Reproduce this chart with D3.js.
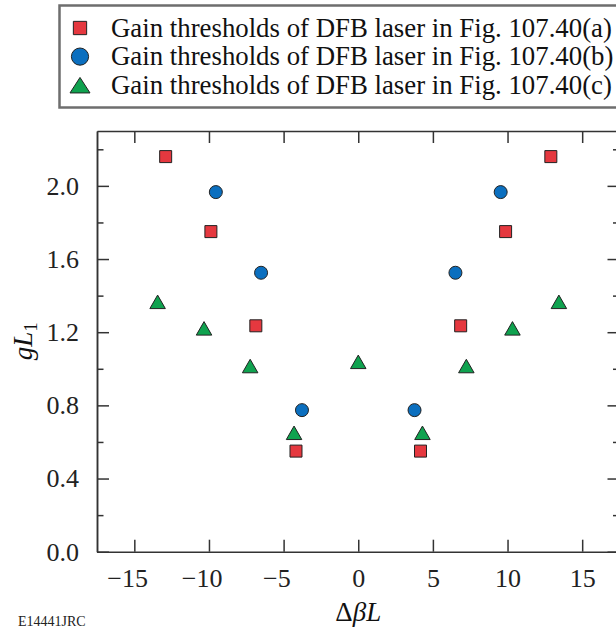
<!DOCTYPE html>
<html lang="en">
<head>
    <meta charset="UTF-8">
    <title>Gain thresholds of DFB laser</title>
    <style>
        body { margin: 0; background: #fff; }
        svg { display: block; font-family: "Liberation Serif", "Times New Roman", serif; }
        .axis path, .axis line { stroke: #333; stroke-width: 1.5; }
        .axis text { font-size: 26px; fill: #222; font-family: "Liberation Serif", "Times New Roman", serif; }
    </style>
</head>
<body>
    <div id="chart"></div>

    <script src="https://d3js.org/d3.v7.min.js"></script>
    <script>
        const w = 616;
        const h = 628;

        // Fig. 107.40(a) - squares
        const xA = [-12.9, -9.87, -6.86, -4.17, 4.17, 6.86, 9.87, 12.9];
        const yA = [2.16, 1.75, 1.235, 0.55, 0.55, 1.235, 1.75, 2.16];
        // Fig. 107.40(b) - circles
        const xB = [-9.54, -6.51, -3.77, 3.77, 6.51, 9.54];
        const yB = [1.966, 1.525, 0.774, 0.774, 1.525, 1.966];
        // Fig. 107.40(c) - triangles
        const xC = [-13.44, -10.33, -7.24, -4.3, 0, 4.3, 7.24, 10.33, 13.44];
        const yC = [1.366, 1.221, 1.015, 0.65, 1.038, 0.65, 1.015, 1.221, 1.366];

        const xTicks = [-15, -10, -5, 0, 5, 10, 15];
        const yMajor = [0, 0.4, 0.8, 1.2, 1.6, 2.0];
        const yMinor = [0.2, 0.6, 1.0, 1.4, 1.8, 2.2];

        const labels = [
            'Gain thresholds of DFB laser in Fig. 107.40(a)',
            'Gain thresholds of DFB laser in Fig. 107.40(b)',
            'Gain thresholds of DFB laser in Fig. 107.40(c)'
        ];
        const colors = ['#e5383f', '#0b6fbf', '#0fa24f'];

        const padL = 97, padR = 619.5, padT = 131, padB = 551.7;

        const xScale = d3.scaleLinear().domain([-17.5, 17.5]).range([padL, padR]);
        const yScale = d3.scaleLinear().domain([0, 2.3]).range([padB, padT]);

        // triangle centred on its bounding box
        const triangle = (tw, th) => ({
            draw(ctx) {
                ctx.moveTo(0, -th / 2);
                ctx.lineTo(tw / 2, th / 2);
                ctx.lineTo(-tw / 2, th / 2);
                ctx.closePath();
            }
        });

        const shapes = [
            d3.symbol(d3.symbolSquare, 12 * 12)(),
            d3.symbol(d3.symbolCircle, Math.PI * 6.5 * 6.5)(),
            d3.symbol(triangle(15.5, 13.5))()
        ];
        const legendShapes = [
            d3.symbol(d3.symbolSquare, 13.3 * 13.3)(),
            d3.symbol(d3.symbolCircle, Math.PI * 8.6 * 8.6)(),
            d3.symbol(triangle(20, 15.5))()
        ];

        const svg = d3.select('#chart')
            .append('svg')
            .attr('width', w)
            .attr('height', h);

        // legend
        svg.append('rect')
            .attr('x', 59.5)
            .attr('y', 5.5)
            .attr('width', 570)
            .attr('height', 102)
            .attr('fill', 'none')
            .attr('stroke', '#6e6e6e')
            .attr('stroke-width', 2.5);

        const legend = svg.selectAll('.legend-item')
            .data(labels)
            .enter()
            .append('g')
            .attr('class', 'legend-item')
            .attr('transform', (d, i) => `translate(0, ${28 + i * 28.6})`);

        legend.append('path')
            .attr('d', (d, i) => legendShapes[i])
            .attr('transform', 'translate(80, 0)')
            .attr('fill', (d, i) => colors[i])
            .attr('stroke', '#222')
            .attr('stroke-width', 1);

        legend.append('text')
            .attr('x', 111)
            .attr('y', 8.6)
            .attr('font-size', '26.8px')
            .attr('fill', '#111')
            .text(d => d);

        // axes
        const xBottom = d3.axisBottom(xScale)
            .tickValues(xTicks)
            .tickSize(-12)
            .tickSizeOuter(0)
            .tickPadding(17)
            .tickFormat(d3.format('d'));
        const xTop = d3.axisTop(xScale)
            .tickValues(xTicks)
            .tickSize(-12)
            .tickSizeOuter(0)
            .tickFormat('');
        const yLeft = d3.axisLeft(yScale)
            .tickValues(yMajor)
            .tickSize(-12)
            .tickSizeOuter(0)
            .tickPadding(18)
            .tickFormat(d3.format('.1f'));
        const yLeftMinor = d3.axisLeft(yScale)
            .tickValues(yMinor)
            .tickSize(-6.5)
            .tickSizeOuter(0)
            .tickFormat('');
        const yRight = d3.axisRight(yScale)
            .tickValues(yMajor)
            .tickSize(-12)
            .tickSizeOuter(0)
            .tickFormat('');
        const yRightMinor = d3.axisRight(yScale)
            .tickValues(yMinor)
            .tickSize(-6.5)
            .tickSizeOuter(0)
            .tickFormat('');

        const gx = svg.append('g')
            .attr('class', 'axis')
            .attr('transform', `translate(0, ${padB})`)
            .call(xBottom);
        gx.selectAll('text')
            .attr('dx', d => d < 0 ? '-0.28em' : 0);

        svg.append('g')
            .attr('class', 'axis')
            .attr('transform', `translate(0, ${padT})`)
            .call(xTop);

        svg.append('g')
            .attr('class', 'axis')
            .attr('transform', `translate(${padL}, 0)`)
            .call(yLeft);
        svg.append('g')
            .attr('class', 'axis')
            .attr('transform', `translate(${padL}, 0)`)
            .call(yLeftMinor);
        svg.append('g')
            .attr('class', 'axis')
            .attr('transform', `translate(${padR}, 0)`)
            .call(yRight);
        svg.append('g')
            .attr('class', 'axis')
            .attr('transform', `translate(${padR}, 0)`)
            .call(yRightMinor);

        // points
        const series = [
            xA.map((x, i) => ({ x: x, y: yA[i] })),
            xB.map((x, i) => ({ x: x, y: yB[i] })),
            xC.map((x, i) => ({ x: x, y: yC[i] }))
        ];

        series.forEach((pts, s) => {
            svg.append('g')
                .selectAll('path')
                .data(pts)
                .enter()
                .append('path')
                .attr('d', shapes[s])
                .attr('transform', d => `translate(${xScale(d.x)}, ${yScale(d.y)})`)
                .attr('fill', colors[s])
                .attr('stroke', '#222')
                .attr('stroke-width', 1);
        });

        // axis titles
        const xt = svg.append('text')
            .attr('x', xScale(0))
            .attr('y', 621)
            .attr('text-anchor', 'middle')
            .attr('font-size', '27px')
            .attr('fill', '#111');
        xt.append('tspan').text('Δ');
        xt.append('tspan').attr('font-style', 'italic').text('βL');

        const yt = svg.append('text')
            .attr('transform', `translate(32, ${(padT + padB) / 2}) rotate(-90)`)
            .attr('text-anchor', 'middle')
            .attr('font-size', '27px')
            .attr('fill', '#111');
        yt.append('tspan').attr('font-style', 'italic').text('gL');
        yt.append('tspan').attr('font-size', '19px').attr('dy', '5').text('1');

        // figure id at the bottom-left corner
        svg.append('text')
            .attr('x', 18)
            .attr('y', 626)
            .attr('font-size', '14px')
            .attr('fill', '#222')
            .text('E14441JRC');
    </script>
</body>
</html>
